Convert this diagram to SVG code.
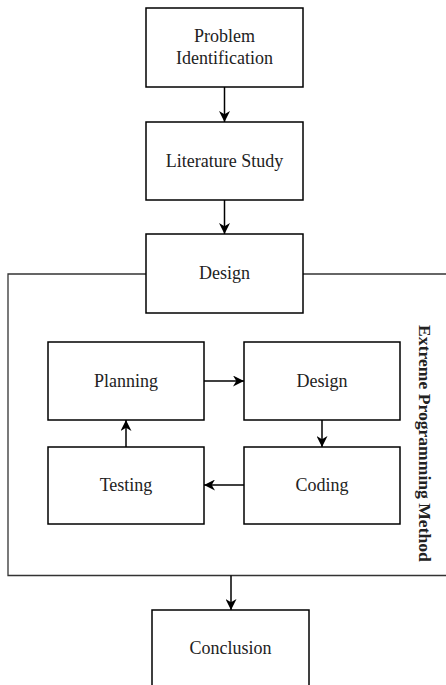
<svg xmlns="http://www.w3.org/2000/svg" width="446" height="685" viewBox="0 0 446 685">
  <defs>
    <marker id="arrow" viewBox="0 0 10 10" refX="10" refY="5" markerWidth="11" markerHeight="11" markerUnits="userSpaceOnUse" orient="auto">
      <path d="M0,0 L10,5 L0,10 L3,5 Z" fill="#000"/>
    </marker>
  </defs>
  <style>
    .box { fill: #fff; stroke: #000; stroke-width: 1.5; }
    .lbl { font-family: "Liberation Serif", "Times New Roman", serif; font-size: 18px; fill: #222; text-anchor: middle; }
    .edge { fill: none; stroke: #000; stroke-width: 1.5; }
    .frame { fill: none; stroke: #333; stroke-width: 1.3; }
    .side { font-family: "Liberation Serif", "Times New Roman", serif; font-size: 17.6px; font-weight: bold; fill: #222; text-anchor: middle; }
  </style>

  <!-- frame of the Extreme Programming phase -->
  <g id="xp-frame">
    <path class="frame" d="M146,274 H8 V575.5 H446"/>
    <path class="frame" d="M303,274 H446"/>
    <text class="side" transform="translate(418.5,443.5) rotate(90)">Extreme Programming Method</text>
  </g>

  <g id="connectors">
    <line class="edge" x1="224.5" y1="87" x2="224.5" y2="122" marker-end="url(#arrow)"/>
    <line class="edge" x1="224.5" y1="200" x2="224.5" y2="234" marker-end="url(#arrow)"/>
    <line class="edge" x1="204" y1="381" x2="244" y2="381" marker-end="url(#arrow)"/>
    <line class="edge" x1="322" y1="420" x2="322" y2="447" marker-end="url(#arrow)"/>
    <line class="edge" x1="244" y1="485" x2="204" y2="485" marker-end="url(#arrow)"/>
    <line class="edge" x1="126" y1="447" x2="126" y2="420" marker-end="url(#arrow)"/>
    <line class="edge" x1="231" y1="575.5" x2="231" y2="610" marker-end="url(#arrow)"/>
  </g>

  <g id="problem-identification">
    <rect class="box" x="146" y="8" width="157" height="79"/>
    <text class="lbl" x="224.5" y="42">Problem</text>
    <text class="lbl" x="224.5" y="64">Identification</text>
  </g>

  <g id="literature-study">
    <rect class="box" x="146" y="122" width="157" height="78"/>
    <text class="lbl" x="224.5" y="167">Literature Study</text>
  </g>

  <g id="design">
    <rect class="box" x="146" y="234" width="157" height="79"/>
    <text class="lbl" x="224.5" y="279">Design</text>
  </g>

  <g id="xp-planning">
    <rect class="box" x="48" y="342" width="156" height="78"/>
    <text class="lbl" x="126" y="387">Planning</text>
  </g>

  <g id="xp-design">
    <rect class="box" x="244" y="342" width="156" height="78"/>
    <text class="lbl" x="322" y="387">Design</text>
  </g>

  <g id="xp-testing">
    <rect class="box" x="48" y="447" width="156" height="77"/>
    <text class="lbl" x="126" y="491">Testing</text>
  </g>

  <g id="xp-coding">
    <rect class="box" x="244" y="447" width="156" height="77"/>
    <text class="lbl" x="322" y="491">Coding</text>
  </g>

  <g id="conclusion">
    <rect class="box" x="152" y="610" width="157" height="85"/>
    <text class="lbl" x="230.5" y="654">Conclusion</text>
  </g>
</svg>
